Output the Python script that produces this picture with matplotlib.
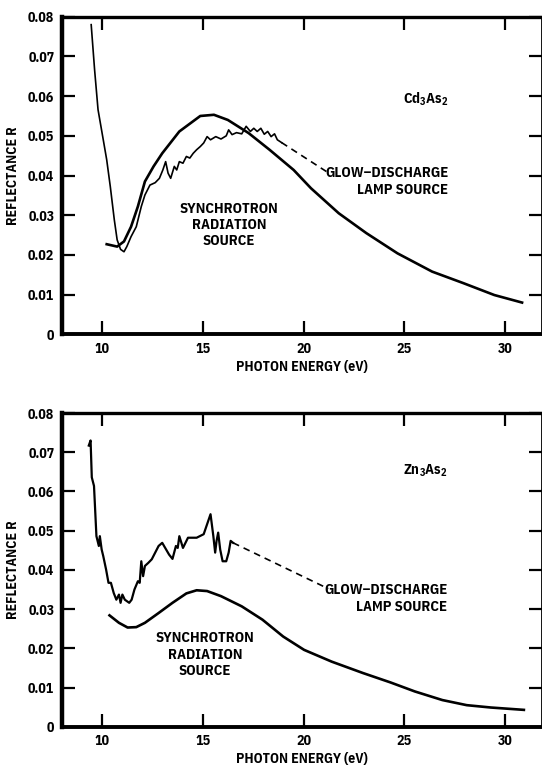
# Reflectance of Cd3As2 and Zn3As2: synchrotron vs glow-discharge lamp source
import matplotlib
matplotlib.use('Agg')
import matplotlib.pyplot as plt

FONT = ['IBM Plex Sans Condensed', 'DejaVu Sans']
plt.rcParams['font.family'] = FONT
plt.rcParams['font.weight'] = 'bold'
plt.rcParams['axes.labelweight'] = 'bold'
plt.rcParams['mathtext.fontset'] = 'custom'
plt.rcParams['mathtext.rm'] = 'IBM Plex Sans Condensed:bold'
plt.rcParams['mathtext.bf'] = 'IBM Plex Sans Condensed:bold'

# ---- Cd3As2 (top panel) ----
cd_sync_e = [10.22, 10.74, 11.08, 11.43, 11.77, 12.12, 12.55, 12.98, 13.83, 14.87,
             15.55, 16.24, 17.27, 18.31, 19.51, 20.37, 21.75, 23.12, 24.67, 26.39,
             27.94, 29.48, 30.86]
cd_sync_r = [0.0227, 0.0221, 0.0234, 0.0271, 0.0322, 0.0385, 0.0423, 0.0456, 0.0511, 0.0550,
             0.0553, 0.0540, 0.0507, 0.0465, 0.0414, 0.0368, 0.0305, 0.0255, 0.0204, 0.0158,
             0.0129, 0.0099, 0.0080]
cd_glow_e = [9.45, 9.62, 9.79, 10.05, 10.22, 10.40, 10.60, 10.74, 10.91, 11.08,
             11.22, 11.43, 11.69, 11.94, 12.12, 12.37, 12.63, 12.84, 13.01, 13.15,
             13.27, 13.40, 13.58, 13.70, 13.83, 14.01, 14.18, 14.35, 14.52, 14.69,
             14.87, 15.04, 15.21, 15.38, 15.64, 15.90, 16.16, 16.28, 16.45, 16.67,
             16.93, 17.15, 17.36, 17.53, 17.70, 17.88, 18.05, 18.22, 18.39, 18.56,
             18.70, 18.91]
cd_glow_r = [0.0780, 0.0666, 0.0566, 0.0490, 0.0440, 0.0372, 0.0288, 0.0238, 0.0214, 0.0208,
             0.0221, 0.0246, 0.0271, 0.0322, 0.0351, 0.0376, 0.0382, 0.0393, 0.0414, 0.0435,
             0.0406, 0.0393, 0.0423, 0.0414, 0.0435, 0.0431, 0.0448, 0.0444, 0.0456, 0.0465,
             0.0473, 0.0482, 0.0498, 0.0490, 0.0498, 0.0492, 0.0500, 0.0515, 0.0503, 0.0508,
             0.0505, 0.0524, 0.0511, 0.0519, 0.0511, 0.0519, 0.0504, 0.0511, 0.0498, 0.0505,
             0.0490, 0.0483]
cd_dash_e = [18.91, 21.14]
cd_dash_r = [0.0483, 0.0410]

# ---- Zn3As2 (bottom panel) ----
zn_sync_e = [10.36, 10.83, 11.26, 11.69, 12.12, 12.80, 13.49, 14.18, 14.69, 15.21,
             15.90, 16.93, 17.96, 18.99, 20.03, 21.40, 22.95, 24.32, 25.53, 26.90,
             28.11, 29.31, 30.95]
zn_sync_r = [0.0284, 0.0265, 0.0253, 0.0254, 0.0265, 0.0290, 0.0316, 0.0340, 0.0348, 0.0346,
             0.0333, 0.0307, 0.0273, 0.0230, 0.0196, 0.0166, 0.0137, 0.0113, 0.0090, 0.0068,
             0.0055, 0.0049, 0.0043]
zn_glow_e = [9.33, 9.42, 9.48, 9.59, 9.71, 9.83, 9.88, 9.97, 10.05, 10.19,
             10.31, 10.43, 10.57, 10.70, 10.83, 10.91, 11.00, 11.12, 11.34, 11.46,
             11.60, 11.77, 11.86, 11.94, 12.03, 12.12, 12.29, 12.46, 12.80, 12.98,
             13.32, 13.49, 13.66, 13.75, 13.83, 14.01, 14.26, 14.69, 15.04, 15.38,
             15.52, 15.61, 15.68, 15.76, 15.86, 15.98, 16.16, 16.28, 16.38, 16.50]
zn_glow_r = [0.0717, 0.0730, 0.0636, 0.0614, 0.0486, 0.0461, 0.0486, 0.0452, 0.0435, 0.0401,
             0.0367, 0.0367, 0.0341, 0.0324, 0.0337, 0.0316, 0.0337, 0.0324, 0.0316, 0.0324,
             0.0350, 0.0371, 0.0367, 0.0422, 0.0384, 0.0410, 0.0418, 0.0427, 0.0461, 0.0469,
             0.0439, 0.0428, 0.0461, 0.0456, 0.0486, 0.0456, 0.0482, 0.0482, 0.0491, 0.0542,
             0.0486, 0.0444, 0.0474, 0.0495, 0.0452, 0.0422, 0.0422, 0.0444, 0.0474, 0.0469]
zn_dash_e = [16.50, 21.23]
zn_dash_r = [0.0469, 0.0352]

x_ticks = [10, 15, 20, 25, 30]
y_ticks = [0, 0.01, 0.02, 0.03, 0.04, 0.05, 0.06, 0.07, 0.08]
y_labels = ['0', '0.01', '0.02', '0.03', '0.04', '0.05', '0.06', '0.07', '0.08']


def style_axes(ax):
    ax.set_xlim(8, 31.85)
    ax.set_ylim(0, 0.08)
    ax.set_xticks(x_ticks)
    ax.set_xticklabels([str(t) for t in x_ticks])
    ax.set_yticks(y_ticks)
    ax.set_yticklabels(y_labels)
    ax.tick_params(direction='in', length=9.5, width=1.6, labelsize=10,
                   top=True, right=True, pad=5.5)
    for side, w in [('left', 3.2), ('bottom', 2.8), ('top', 2.4), ('right', 1.3)]:
        ax.spines[side].set_linewidth(w)
    ax.set_xlabel('PHOTON ENERGY (eV)', fontsize=10, va='top')
    ax.set_ylabel('REFLECTANCE R', fontsize=10, va='bottom')
    ax.xaxis.set_label_coords(0.5, -0.082)
    ax.yaxis.set_label_coords(-0.088, 0.5)


def main():
    fig = plt.figure(figsize=(5.42, 7.67), dpi=100)
    ax1 = fig.add_axes([0.1144, 0.5641, 0.8856, 0.4141])
    ax2 = fig.add_axes([0.1144, 0.0525, 0.8856, 0.4090])

    # top panel
    ax1.plot(cd_sync_e, cd_sync_r, color='black', lw=1.9)
    ax1.plot(cd_glow_e, cd_glow_r, color='black', lw=1.2)
    ax1.plot(cd_dash_e, cd_dash_r, color='black', lw=1.2, ls=(0, (4, 3)))
    ax1.text(26.1, 0.0591, r'$\mathrm{Cd_3As_2}$', ha='center', va='center', fontsize=10.5)
    ax1.text(27.2, 0.0385, 'GLOW\u2013DISCHARGE\nLAMP SOURCE', ha='right', va='center',
             fontsize=10.5, linespacing=1.2)
    ax1.text(16.29, 0.0276, 'SYNCHROTRON\nRADIATION\nSOURCE', ha='center', va='center',
             fontsize=10.5, linespacing=1.2)
    style_axes(ax1)

    # bottom panel
    ax2.plot(zn_sync_e, zn_sync_r, color='black', lw=1.9)
    ax2.plot(zn_glow_e, zn_glow_r, color='black', lw=1.6)
    ax2.plot(zn_dash_e, zn_dash_r, color='black', lw=1.2, ls=(0, (4, 3)))
    ax2.text(26.05, 0.0653, r'$\mathrm{Zn_3As_2}$', ha='center', va='center', fontsize=10.5)
    ax2.text(27.15, 0.0327, 'GLOW\u2013DISCHARGE\nLAMP SOURCE', ha='right', va='center',
             fontsize=10.5, linespacing=1.2)
    ax2.text(15.1, 0.0184, 'SYNCHROTRON\nRADIATION\nSOURCE', ha='center', va='center',
             fontsize=10.5, linespacing=1.2)
    style_axes(ax2)

    fig.savefig('out.png', dpi=100)


if __name__ == '__main__':
    main()
